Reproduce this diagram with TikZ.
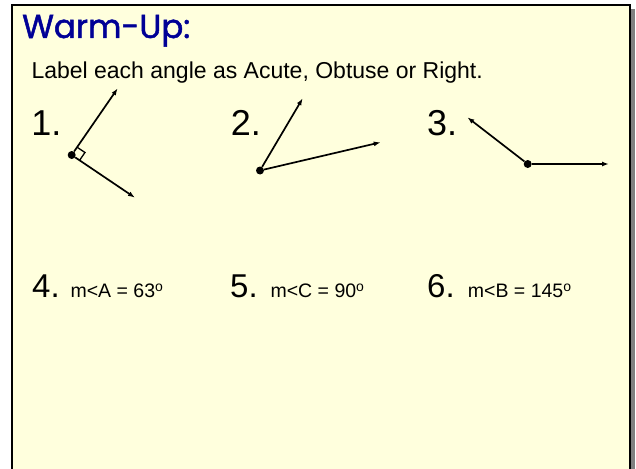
\documentclass[tikz,border=0pt]{standalone}
\usepackage{fontspec}
\setmainfont{Liberation Sans}
\newfontfamily\titlefont[FakeBold=1.5]{Poppins}
\usetikzlibrary{arrows.meta,calc}
\definecolor{paper}{RGB}{255,255,221}
\definecolor{navy}{RGB}{0,0,150}
\definecolor{shadowgray}{RGB}{128,128,128}
\newcommand{\degsup}{\raisebox{6pt}{\fontsize{14}{14}\selectfont o}}
\begin{document}
\begin{tikzpicture}[x=1pt,y=-1pt,
  ray/.style={line width=1.7pt,-{Latex[length=7pt,width=5pt]}},
  vdot/.style={circle,fill=black,inner sep=0pt,minimum size=8pt},
  txt/.style={anchor=base west,inner sep=0pt},
  bignum/.style={txt,font=\fontsize{36}{36}\selectfont},
  midnum/.style={txt,font=\fontsize{33}{33}\selectfont},
  meas/.style={txt,font=\fontsize{19.5}{19.5}\selectfont}
]
\useasboundingbox (0,0) rectangle (636,468);
% frame with shadow
\fill[shadowgray] (16,9) rectangle (635,490);
\filldraw[fill=paper,draw=black,line width=2pt] (12,5) rectangle (630,485);
% title and instruction
\node[txt] (title) at (22,38) {\resizebox{168pt}{23pt}{\color{navy}\titlefont Warm-Up:}};
\node[txt,font=\fontsize{23}{23}\selectfont] (instr) at (31.3,79) {Label each angle as Acute, Obtuse or Right.};
% item numbers
\node[bignum] (n1) at (31.1,135.5) {1.};
\node[bignum] (n2) at (230.6,135.5) {2.};
\node[bignum] (n3) at (426.8,135.5) {3.};
% angle 1 (right)
\node[vdot] (v1) at (71.7,155) {};
\coordinate (a1) at (117.7,88.3);
\coordinate (b1) at (135,197.7);
\draw[ray] (v1) -- (a1);
\draw[ray] (v1) -- (b1);
\coordinate (r1) at ($(v1.center)!9.5pt!(a1)$);
\coordinate (r2) at ($(v1.center)!9.5pt!(b1)$);
\draw[line width=1.3pt] (r1) -- ($(r1)+(r2)-(v1.center)$) -- (r2);
% angle 2 (acute)
\node[vdot] (v2) at (260,170.5) {};
\coordinate (a2) at (302.7,98.3);
\coordinate (b2) at (380.7,142.3);
\draw[ray] (v2) -- (a2);
\draw[ray] (v2) -- (b2);
% angle 3 (obtuse)
\node[vdot] (v3) at (527.7,164) {};
\coordinate (a3) at (467.3,117.3);
\coordinate (b3) at (609,164);
\draw[ray] (v3) -- (a3);
\draw[ray] (v3) -- (b3);
% measures
\node[midnum] (n4) at (32,297.5) {4.};
\node[midnum] (n5) at (230,297.5) {5.};
\node[midnum] (n6) at (427,297.5) {6.};
\node[meas] (m4) at (70.4,297) {m<A = 63\degsup};
\node[meas] (m5) at (270.4,297) {m<C = 90\degsup};
\node[meas] (m6) at (467.7,297) {m<B = 145\degsup};
\end{tikzpicture}
\end{document}
